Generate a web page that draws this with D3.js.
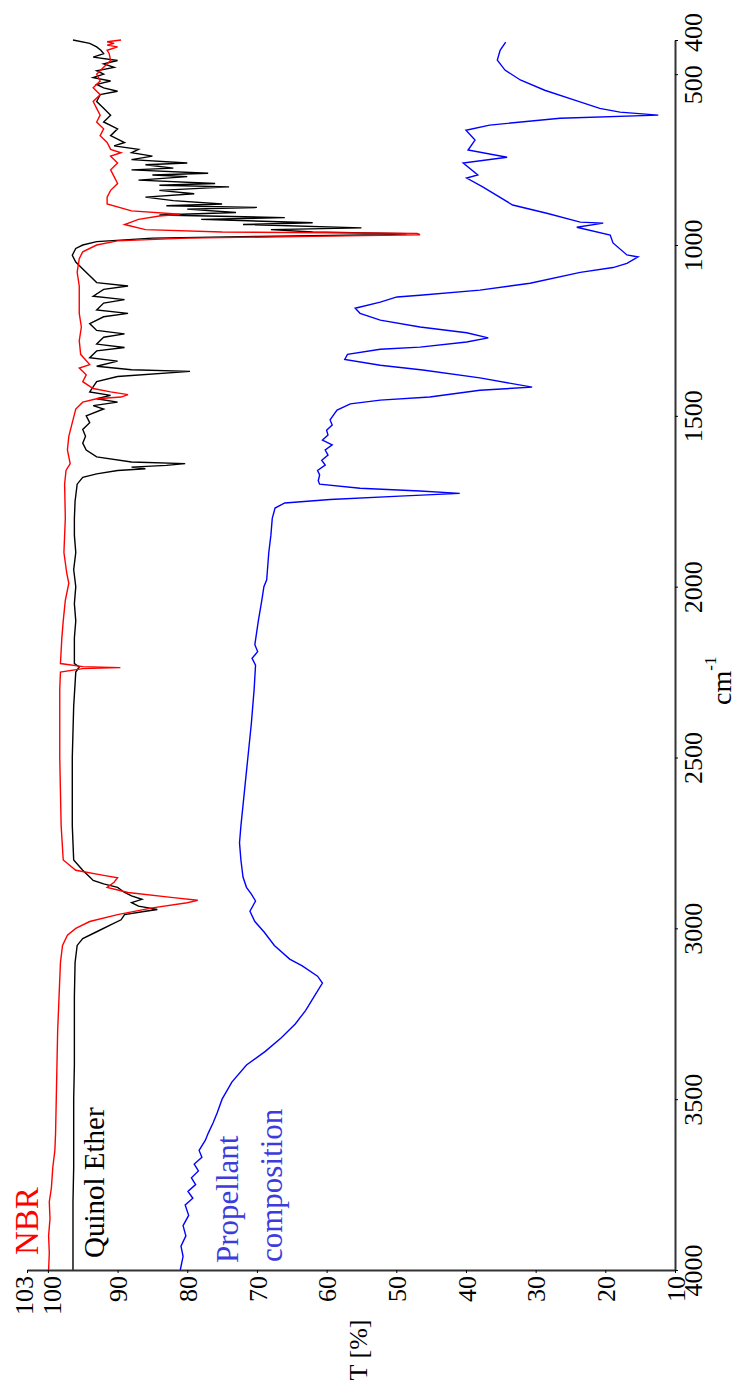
<!DOCTYPE html>
<html><head><meta charset="utf-8">
<script src="https://cdn.jsdelivr.net/npm/d3@7"></script>
<style>body{margin:0;background:#fff}svg{display:block}</style>
</head><body><svg id="c" width="739" height="1386"></svg>
<script>
// wavenumber (cm-1) / transmittance (%) pairs
const nbr = [[4000,99.9],[3950,99.8],[3900,99.9],[3850,99.7],[3800,99.8],[3760,99.5],[3700,99.3],[3650,99.0],[3600,98.9],[3500,98.8],[3400,98.7],[3300,98.6],[3200,98.4],[3100,98.2],[3050,97.9],[3020,97.2],[3000,96],[2980,94],[2960,90],[2940,85],[2925,80],[2918,78.5],[2910,82],[2895,88.5],[2880,91.5],[2865,90.5],[2852,90],[2845,92],[2830,96],[2800,97.8],[2700,98.1],[2500,98.3],[2300,98.3],[2250,98.2],[2240,95],[2237,89.6],[2234,95],[2225,98.2],[2150,98.0],[2100,97.8],[2040,97.5],[1990,97.0],[1960,97.3],[1900,97.7],[1800,97.5],[1700,97.6],[1660,97.4],[1640,96.8],[1600,97.2],[1560,97],[1520,96.5],[1480,96],[1460,95],[1450,93],[1445,89.5],[1438,88.5],[1430,91],[1420,93.5],[1400,95],[1380,94.5],[1360,95.5],[1350,94],[1320,95.3],[1280,95.5],[1240,95.2],[1200,95.5],[1160,95.5],[1120,95.5],[1080,95.8],[1040,95.5],[1020,95],[1000,93],[988,90],[980,80],[974,60],[970,46.6],[966,47],[962,75],[955,86],[940,89],[925,87],[915,84],[910,81],[900,88],[880,91.5],[860,91.5],[840,91],[820,90],[800,90.5],[780,91],[760,90],[740,91],[730,89.5],[720,91],[700,91.5],[680,92.5],[660,92],[640,93],[620,92.5],[600,93],[580,93.5],[560,92.5],[540,93.5],[520,92.5],[500,93],[480,92],[460,91],[440,91.2],[430,91.5],[420,90],[415,91.5],[410,90.5],[405,91.5],[400,89.5]];
const quinol = [[4000,96.4],[3800,96.4],[3700,96.3],[3600,96.3],[3500,96.3],[3400,96.2],[3300,96.2],[3200,96.2],[3100,96.1],[3050,95.8],[3030,95],[3010,93],[2990,91],[2975,89.5],[2960,89],[2950,86],[2945,84.3],[2935,87],[2925,88],[2915,86.5],[2905,88],[2895,89],[2880,90],[2870,92],[2860,93.5],[2850,94],[2830,95],[2800,96.3],[2700,96.5],[2500,96.5],[2350,96.3],[2250,96.0],[2235,95.5],[2225,96.2],[2150,96.2],[2100,96.0],[2050,96.2],[2000,96.0],[1950,96.3],[1900,96.0],[1850,96.2],[1800,96.2],[1750,96.1],[1700,95.8],[1680,95],[1670,93],[1660,90],[1655,86],[1650,88],[1645,83],[1640,80.3],[1635,88],[1620,93],[1600,94.5],[1580,95],[1560,94.6],[1540,95],[1520,94],[1500,94.5],[1480,92],[1470,93.5],[1460,90],[1450,93],[1440,91],[1430,94],[1400,93],[1385,90],[1370,79.6],[1365,88],[1355,93],[1340,90],[1330,94],[1310,93],[1300,89],[1290,93],[1270,92],[1260,89],[1250,93],[1230,94],[1210,92],[1200,88.5],[1190,93],[1170,92],[1160,89],[1150,93.5],[1130,92],[1120,88.5],[1110,93],[1090,94],[1070,95],[1050,96],[1030,96.5],[1010,96],[1000,95],[990,93],[980,85],[975,70],[970,52],[967,48.5],[962,62],[955,68],[950,55],[940,72],[935,62],[925,78],[920,66],[912,84],[905,73],[895,80],[890,70],[885,83],[880,75],[870,82],[860,86],[850,79],[840,84],[830,74],[825,84],[820,76],[810,87],[800,80],[795,85],[790,77],[780,88],[775,82],[765,86],[760,80],[750,88],[740,85],[730,88],[720,87],[710,90.5],[700,89],[680,91],[660,90],[640,92],[620,91],[600,92],[580,93],[560,92.5],[550,90],[540,92],[530,93],[520,91],[510,93.5],[500,92],[490,93],[480,90.5],[470,92],[460,90],[450,93.5],[440,92],[430,92.4],[420,93],[410,94],[400,96.4]];
const propellant = [[4000,81.0],[3960,80.6],[3930,80.9],[3900,80.2],[3870,80.6],[3840,79.8],[3810,80.3],[3790,79.2],[3770,79.9],[3750,78.8],[3730,79.4],[3710,78.4],[3690,79.0],[3670,77.9],[3650,78.3],[3620,77.4],[3600,77.0],[3570,76.3],[3540,75.7],[3500,75.0],[3450,73.6],[3400,71.5],[3360,68.8],[3320,66.5],[3280,64.5],[3240,63],[3200,61.8],[3160,60.6],[3140,61.3],[3110,63.5],[3090,65.3],[3050,67.5],[3010,69.0],[2980,70.3],[2950,71.0],[2920,70.2],[2900,70.8],[2880,71.5],[2850,72.0],[2800,72.3],[2750,72.5],[2700,72.3],[2600,71.8],[2500,71.3],[2400,70.8],[2300,70.4],[2230,70.2],[2210,70.7],[2190,69.9],[2170,70.3],[2100,69.8],[2040,69.3],[2000,69.0],[1980,68.6],[1900,68.3],[1850,68.0],[1800,67.8],[1770,67.4],[1755,66],[1745,59.5],[1735,49.5],[1727,40.9],[1720,46.6],[1712,55.2],[1700,61],[1690,61.2],[1673,61],[1660,61.3],[1644,60.2],[1630,60.7],[1615,59.8],[1600,60.2],[1585,59.2],[1571,60.6],[1556,59.8],[1542,60],[1527,59.2],[1512,59.5],[1497,59],[1483,58.5],[1465,56.6],[1454,52.3],[1445,45.2],[1425,38],[1416,30.5],[1389,38],[1366,46.2],[1352,52.3],[1335,57.4],[1320,57],[1305,52.3],[1299,46.6],[1284,39.9],[1272,36.8],[1257,39.9],[1240,46.6],[1220,52.3],[1200,55.2],[1185,55.9],[1167,52.3],[1152,49.9],[1147,46.6],[1132,38],[1112,30.8],[1080,23.6],[1066,18.9],[1054,16.9],[1035,15.3],[1029,16.9],[994,18.9],[971,19.3],[948,24.1],[936,20.3],[933,23.6],[907,28.4],[883,33.3],[830,37.6],[804,39.9],[795,38.3],[760,40.4],[743,34.1],[722,39.7],[693,38.7],[664,40],[649,36.6],[629,26.5],[620,12.4],[611,17.9],[600,20.8],[576,24.4],[547,28.7],[517,32.2],[488,34.4],[459,35.5],[430,35.1],[406,34.3]];

const T_TICKS = [103,100,90,80,70,60,50,40,30,20,10];
const W_TICKS = [4000,3500,3000,2500,2000,1500,1000,500,400];
const FONT = "'Liberation Serif','Times New Roman',serif";

const svg = d3.select("#c");
const xT = d3.scaleLinear().domain([103,10]).range([27,675]);
const yW = d3.scaleLinear().domain([4000,400]).range([1270,40]);

const line = d3.line().x(d=>xT(d[1])).y(d=>yW(d[0]));
const series = [[propellant,"#0000ff"],[quinol,"#000000"],[nbr,"#ff0000"]];
series.forEach(([d,c])=>svg.append("path").datum(d).attr("d",line).attr("fill","none").attr("stroke",c).attr("stroke-width",1.4));

// bottom (T) axis
const gx = svg.append("g").attr("transform","translate(0,1270)")
  .call(d3.axisBottom(xT).tickValues(T_TICKS).tickFormat(d3.format("d")).tickSize(3).tickSizeOuter(0));
gx.attr("font-family",FONT);
gx.select(".domain").attr("stroke","#333").attr("stroke-width",2);
const tNudge = {103:-4,100:3};
gx.selectAll(".tick text").attr("font-size",26).attr("font-family",FONT).attr("fill","#000")
  .attr("text-anchor","end").attr("y",0).attr("dy","0.35em")
  .attr("transform",d=>`translate(${tNudge[d]||0},6) rotate(-90)`);

// right (wavenumber) axis
const gy = svg.append("g").attr("transform","translate(675,0)")
  .call(d3.axisRight(yW).tickValues(W_TICKS).tickFormat(d3.format("d")).tickSize(3).tickSizeOuter(0));
gy.attr("font-family",FONT);
gy.select(".domain").attr("stroke","#333").attr("stroke-width",2);
const wNudge = {400:-8,500:10};
gy.selectAll(".tick text").attr("font-size",26).attr("font-family",FONT).attr("fill","#000")
  .attr("text-anchor","middle").attr("x",0).attr("dy",0)
  .attr("transform",d=>`translate(27,${wNudge[d]||0}) rotate(-90)`);

// axis titles
svg.append("text").attr("transform","translate(367,1350) rotate(-90)").attr("text-anchor","middle")
  .attr("font-family",FONT).attr("font-size",26).text("T [%]");
const cm = svg.append("text").attr("transform","translate(731,705) rotate(-90)").attr("font-family",FONT).attr("font-size",28);
cm.append("tspan").text("cm");
cm.append("tspan").attr("font-size",17).attr("dy","-0.9em").text("-1");

// series labels
svg.append("text").attr("transform","translate(38,1255) rotate(-90)").attr("font-family",FONT).attr("font-size",33).attr("fill","#ff0000").text("NBR");
svg.append("text").attr("transform","translate(104,1258) rotate(-90)").attr("font-family",FONT).attr("font-size",29).attr("fill","#000").text("Quinol Ether");
svg.append("text").attr("transform","translate(238,1263) rotate(-90)").attr("font-family",FONT).attr("font-size",31).attr("fill","#3c3cdc").text("Propellant");
svg.append("text").attr("transform","translate(282,1262) rotate(-90)").attr("font-family",FONT).attr("font-size",31).attr("fill","#3c3cdc").text("composition");
</script></body></html>
